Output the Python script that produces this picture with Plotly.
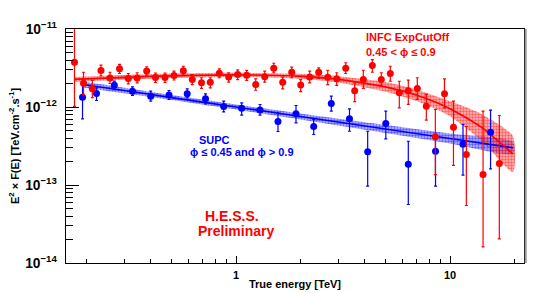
import plotly.graph_objects as go

SCALE = 1e-12  # flux values below are in units of 1e-12 TeV cm^-2 s^-1

# INFC (0.45 < phi <= 0.9) points
red_E = [0.1759, 0.1938, 0.2131, 0.2339, 0.2577, 0.2855, 0.3138, 0.3453, 0.3825, 0.4205,
         0.4658, 0.5132, 0.5673, 0.6249, 0.6899, 0.7584, 0.8354, 0.9244, 1.018, 1.122,
         1.236, 1.362, 1.501, 1.653, 1.821, 2.006, 2.210, 2.435, 2.683, 2.955,
         3.256, 3.587, 3.935, 4.335, 4.775, 5.260, 5.796, 6.385, 7.035, 7.750,
         8.540, 9.425, 10.38, 11.92, 14.27, 17.00]
red_F = [3.75, 2.02, 1.71, 2.94, 2.35, 3.09, 2.32, 2.35, 2.89, 2.39,
         2.39, 2.53, 2.92, 2.25, 2.04, 2.08, 2.71, 2.42, 2.61, 2.55,
         1.94, 2.44, 3.14, 2.07, 2.79, 1.91, 2.42, 2.79, 2.41, 2.30,
         3.14, 1.61, 2.25, 3.40, 2.25, 2.69, 1.52, 1.61, 1.73, 1.02,
         0.415, 1.48, 0.551, 0.246, 0.136, 0.188]
red_hi = [11.0, 2.79, 2.19, 3.44, 2.79, 3.51, 2.69, 2.75, 3.28, 2.73,
          2.73, 2.89, 3.33, 2.61, 2.37, 2.37, 3.09, 2.75, 3.00, 2.94,
          2.30, 2.88, 3.64, 2.41, 3.24, 2.25, 2.88, 3.18, 2.96, 2.75,
          3.69, 2.04, 2.96, 4.06, 2.75, 3.33, 2.14, 2.21, 2.37, 1.45,
          0.929, 2.30, 1.19, 0.562, 0.884, 0.778]
red_lo = [1.02, 1.45, 1.32, 2.50, 2.00, 2.69, 1.98, 2.04, 2.56, 2.06,
          2.06, 2.22, 2.56, 1.94, 1.73, 1.76, 2.37, 2.08, 2.25, 2.19,
          1.64, 2.08, 2.75, 1.71, 2.37, 1.57, 2.04, 2.32, 1.94, 1.89,
          2.69, 1.17, 1.73, 2.79, 1.85, 2.14, 0.976, 1.08, 1.25, 0.677,
          0.136, 0.976, 0.178, 0.0546, 0.0161, 0.0204]

# SUPC (phi <= 0.45 and phi > 0.9) points
blue_E = [0.1918, 0.2229, 0.2700, 0.3283, 0.3994, 0.4863, 0.5915, 0.7204, 0.8761, 1.063,
          1.295, 1.571, 1.907, 2.307, 2.788, 3.391, 4.124, 5.012, 6.385, 8.557,
          11.50, 15.47]
blue_F = [1.335, 1.489, 1.903, 1.590, 1.376, 1.426, 1.480, 1.273, 1.015, 0.965,
          0.915, 0.652, 0.821, 0.562, 1.109, 0.706, 0.2665, 0.6145, 0.1848, 0.2705,
          0.3325, 0.475]
blue_hi = [2.061, 1.762, 2.142, 1.815, 1.594, 1.627, 1.712, 1.476, 1.187, 1.132,
           1.076, 0.842, 1.045, 0.691, 1.376, 0.948, 0.489, 0.884, 0.364, 0.403,
           0.5965, 0.910]
blue_lo = [0.706, 1.212, 1.676, 1.404, 1.187, 1.248, 1.312, 1.099, 0.868, 0.785,
           0.785, 0.485, 0.627, 0.444, 0.884, 0.489, 0.0965, 0.391, 0.0562, 0.0965,
           0.1335, 0.1613]

# Fitted spectra with their error bands
red_fit_E = [0.175, 0.3, 0.5, 1.0, 2.0, 3.0, 5.0, 7.0, 10.0, 14.0, 19.7]
red_fit = [2.26, 2.40, 2.51, 2.58, 2.47, 2.26, 1.81, 1.41, 0.952, 0.552, 0.249]
red_fit_hi = [2.43, 2.57, 2.68, 2.74, 2.66, 2.48, 2.09, 1.67, 1.19, 0.816, 0.423]
red_fit_lo = [2.10, 2.24, 2.35, 2.43, 2.30, 2.06, 1.57, 1.19, 0.763, 0.373, 0.147]

blue_fit_E = [0.192, 0.3, 0.5, 1.0, 2.0, 5.0, 10.0, 19.7]
blue_fit = [1.94, 1.63, 1.32, 1.00, 0.756, 0.522, 0.394, 0.300]
blue_fit_hi = [2.12, 1.77, 1.42, 1.076, 0.825, 0.587, 0.457, 0.358]
blue_fit_lo = [1.78, 1.50, 1.23, 0.929, 0.693, 0.464, 0.340, 0.251]

RED = "#ff0000"
BLUE = "#0000ff"
FONT = "Liberation Sans"


def sc(v):
    return [a * SCALE for a in v]


fig = go.Figure()


def add_band(E, hi, lo, color, rgba):
    fig.add_trace(go.Scatter(
        x=E + E[::-1], y=sc(hi) + sc(lo)[::-1], mode="lines", fill="toself",
        line=dict(width=0, shape="spline", smoothing=0.6),
        fillcolor=rgba,
        fillpattern=dict(shape=".", fgcolor=color, bgcolor=rgba, size=3, solidity=0.5),
        hoverinfo="skip", showlegend=False))


def add_line(E, v, color):
    fig.add_trace(go.Scatter(x=E, y=sc(v), mode="lines",
                             line=dict(color=color, width=1.6, shape="spline", smoothing=0.6),
                             showlegend=False))


def add_points(E, v, hi, lo, color):
    plus = [(h - c) * SCALE for h, c in zip(hi, v)]
    minus = [(c - l) * SCALE for c, l in zip(v, lo)]
    fig.add_trace(go.Scatter(
        x=E, y=sc(v), mode="markers",
        marker=dict(color=color, size=7, symbol="circle"),
        error_y=dict(type="data", symmetric=False, array=plus, arrayminus=minus,
                     color=color, thickness=1.2, width=1.5),
        showlegend=False))


add_band(blue_fit_E, blue_fit_hi, blue_fit_lo, BLUE, "rgba(60,60,255,0.35)")
add_band(red_fit_E, red_fit_hi, red_fit_lo, RED, "rgba(255,60,60,0.35)")
add_line(blue_fit_E, blue_fit, BLUE)
add_line(red_fit_E, red_fit, RED)
add_points(blue_E, blue_F, blue_hi, blue_lo, BLUE)
add_points(red_E, red_F, red_hi, red_lo, RED)

tickfont = dict(family=FONT, size=11, color="black", weight="bold")

fig.update_xaxes(
    type="log", range=[-0.7944, 1.3458], dtick=1, automargin=False,
    showgrid=False, zeroline=False,
    showline=True, linecolor="black", linewidth=1, mirror=True,
    ticks="inside", ticklen=7, tickcolor="black", tickwidth=1,
    minor=dict(ticks="inside", ticklen=4, tickcolor="black", showgrid=False),
    tickfont=tickfont, ticklabelstandoff=2,
    title=dict(text="True energy [TeV]", font=dict(family=FONT, size=11, color="black", weight="bold"),
               standoff=0),
)
fig.update_yaxes(
    type="log", range=[-14, -11], dtick=1, automargin=False,
    showgrid=False, zeroline=False,
    showline=True, linecolor="black", linewidth=1, mirror=True,
    ticks="inside", ticklen=13, tickcolor="black", tickwidth=1,
    minor=dict(ticks="inside", ticklen=7, tickcolor="black", showgrid=False),
    exponentformat="power", showexponent="all",
    tickfont=tickfont, ticklabelstandoff=6,
)

ann = [
    dict(text="<b>INFC ExpCutOff</b>", x=0.651, y=0.967, xanchor="left", color=RED, size=11),
    dict(text="<b>0.45 < ϕ ≤ 0.9</b>", x=0.651, y=0.903, xanchor="left", color=RED, size=11),
    dict(text="<b>SUPC</b>", x=0.2854, y=0.526, xanchor="left", color=BLUE, size=11),
    dict(text="<b>ϕ ≤ 0.45 and ϕ > 0.9</b>", x=0.2657, y=0.474, xanchor="left", color=BLUE, size=11),
    dict(text="<b>H.E.S.S.</b>", x=0.3632, y=0.199, xanchor="center", color=RED, size=14),
    dict(text="<b>Preliminary</b>", x=0.3707, y=0.137, xanchor="center", color=RED, size=14),
]
for a in ann:
    fig.add_annotation(text=a["text"], x=a["x"], y=a["y"], xref="paper", yref="paper",
                       xanchor=a["xanchor"], yanchor="middle", showarrow=False,
                       font=dict(family=FONT, size=a["size"], color=a["color"]))

# y-axis title
fig.add_annotation(text="<b>E<sup>2</sup> × F(E) [TeV.cm<sup>-2</sup>.s<sup>-1</sup>]</b>",
                   x=-0.1135, y=0.5, xref="paper", yref="paper", textangle=-90,
                   xanchor="center", yanchor="middle", showarrow=False,
                   font=dict(family=FONT, size=11, color="black"))

# grey frame shadow on the right edge
fig.add_shape(type="rect", xref="paper", yref="paper", x0=1.0015, x1=1.006, y0=0, y1=1,
              fillcolor="#999999", line=dict(width=0))

# the page body has an 8 px margin, so the figure is 8 px smaller than the window
fig.update_layout(
    width=544, height=285,
    margin=dict(l=58, r=28, t=21, b=30),
    paper_bgcolor="white", plot_bgcolor="white",
    showlegend=False,
)

fig.write_html("out.html")
